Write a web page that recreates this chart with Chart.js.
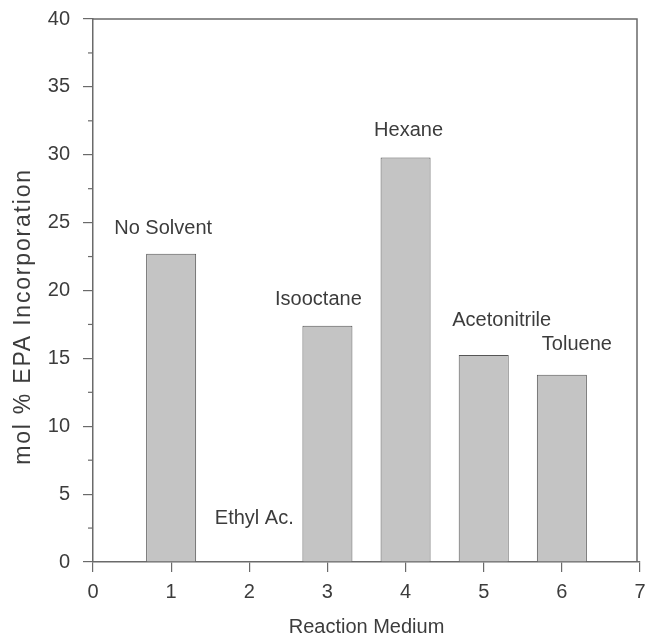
<!DOCTYPE html>
<html>
<head>
<meta charset="utf-8">
<script src="https://cdn.jsdelivr.net/npm/chart.js@4/dist/chart.umd.min.js"></script>
<style>
  html, body { margin: 0; padding: 0; background: #fff; }
  #wrap { width: 645px; height: 639px; }
</style>
</head>
<body>
<div id="wrap"><canvas id="chart" width="645" height="639"></canvas></div>
<script>
// reaction media (x positions 1..6) and mol % EPA incorporation
const media = ['No Solvent', 'Ethyl Ac.', 'Isooctane', 'Hexane', 'Acetonitrile', 'Toluene'];
const positions = [1, 2, 3, 4, 5, 6];
const incorporation = [22.7, 0, 17.4, 29.8, 15.25, 13.8];

const ink = '#3c3c3c';
const axisColor = '#6a6a6a';
const family = '"Liberation Sans", Arial, sans-serif';

// text labels sit a little above each bar, nudged like in the figure
const labelNudge = {
  dx: [-8, 5, -9, 3, 18, 15],
  dy: [25, 44, 26, 27, 34, 30]
};

const barLabels = {
  id: 'barLabels',
  afterDatasetsDraw(chart) {
    const { ctx } = chart;
    const meta = chart.getDatasetMeta(0);
    const yScale = chart.scales.y;
    ctx.save();
    ctx.font = '20px ' + family;
    ctx.fillStyle = ink;
    ctx.textAlign = 'center';
    ctx.textBaseline = 'middle';
    meta.data.forEach((bar, i) => {
      const top = yScale.getPixelForValue(incorporation[i]);
      ctx.fillText(media[i], bar.x + labelNudge.dx[i], top - labelNudge.dy[i]);
    });
    ctx.restore();
  }
};

// frame round the plot, short minor ticks on the y axis and the y title
const frame = {
  id: 'frame',
  afterDraw(chart) {
    const { ctx, chartArea: a } = chart;
    const y = chart.scales.y;
    ctx.save();
    ctx.strokeStyle = axisColor;
    ctx.lineWidth = 1.5;
    ctx.beginPath();
    ctx.moveTo(a.left, a.top);
    ctx.lineTo(a.right - 3, a.top);
    ctx.lineTo(a.right - 3, a.bottom);
    ctx.stroke();
    ctx.lineWidth = 1.2;
    y.ticks.forEach(t => {
      if (t.value % 5 !== 0) {
        const py = y.getPixelForValue(t.value);
        ctx.beginPath();
        ctx.moveTo(a.left - 5, py);
        ctx.lineTo(a.left, py);
        ctx.stroke();
      }
    });
    // y axis title, drawn by hand to get its spread-out lettering
    ctx.translate(24, (a.top + a.bottom) / 2 + 26);
    ctx.rotate(-Math.PI / 2);
    ctx.font = '23px ' + family;
    ctx.letterSpacing = '1.8px';
    ctx.fillStyle = ink;
    ctx.textAlign = 'center';
    ctx.textBaseline = 'middle';
    ctx.fillText('mol % EPA Incorporation', 0, 0);
    ctx.restore();
  }
};

new Chart(document.getElementById('chart'), {
  type: 'bar',
  data: {
    datasets: [{
      data: positions.map((x, i) => ({ x: x, y: incorporation[i] })),
      backgroundColor: '#c4c4c4',
      borderColor: '#555',
      borderWidth: 1,
      borderSkipped: 'bottom',
      categoryPercentage: 1,
      barPercentage: 0.64
    }]
  },
  options: {
    responsive: false,
    animation: false,
    layout: { padding: { top: 19, right: 5, left: 0, bottom: 0 } },
    plugins: { legend: { display: false }, tooltip: { enabled: false } },
    scales: {
      x: {
        type: 'linear',
        min: 0,
        max: 7,
        offset: false,
        grid: { offset: false, drawOnChartArea: false, tickLength: 10, color: axisColor, lineWidth: 1.2 },
        border: { color: axisColor, width: 1.5 },
        ticks: { stepSize: 1, color: ink, padding: 8, font: { size: 20, family: family } },
        title: {
          display: true,
          text: 'Reaction Medium',
          color: ink,
          font: { size: 20, family: family },
          padding: { top: 0, bottom: 0 }
        },
        afterFit(scale) {
          scale.height = 77;
          scale.paddingLeft = 0;
          scale.paddingRight = 0;
        }
      },
      y: {
        min: 0,
        max: 40,
        grid: {
          drawOnChartArea: false,
          tickLength: 10,
          lineWidth: 1.2,
          color: axisColor,
          tickColor: ctx => (ctx.tick && ctx.tick.value % 5 === 0) ? axisColor : 'rgba(0,0,0,0)'
        },
        border: { color: axisColor, width: 1.5 },
        ticks: {
          stepSize: 2.5,
          color: ink,
          padding: 13,
          font: { size: 20, family: family },
          callback: v => (v % 5 === 0 ? v : '')
        },
        afterFit(scale) {
          scale.width = 93;
          scale.paddingTop = 0;
          scale.paddingBottom = 0;
        }
      }
    }
  },
  plugins: [barLabels, frame]
});
</script>
</body>
</html>
